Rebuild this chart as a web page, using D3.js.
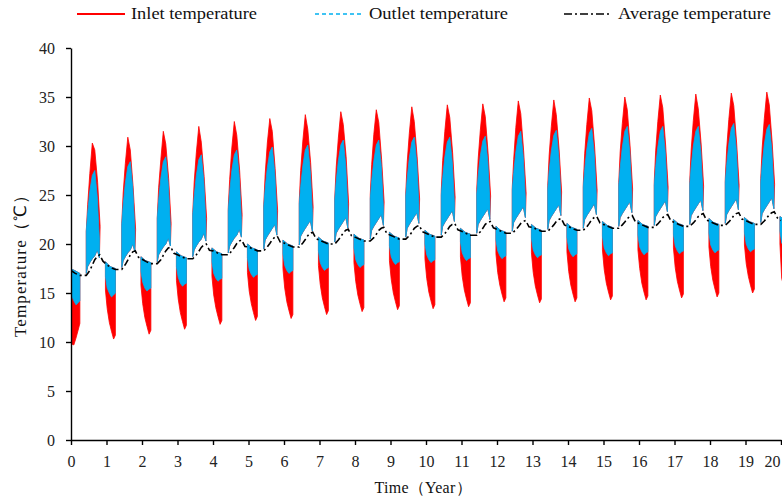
<!DOCTYPE html>
<html>
<head>
<meta charset="utf-8">
<script src="https://cdn.jsdelivr.net/npm/d3@7"></script>
<style>
  body { margin: 0; background: #fff; }
  text { font-family: "Liberation Serif", "Times New Roman", serif; }
</style>
</head>
<body>
<svg id="chart" width="782" height="499"></svg>
<script>
// ---- Axis ticks ----
const yearTicks = [0, 1, 2, 3, 4, 5, 6, 7, 8, 9, 10, 11, 12, 13, 14, 15, 16, 17, 18, 19, 20];
const tempTicks = [0, 5, 10, 15, 20, 25, 30, 35, 40];

// ---- Cooling season (summer) envelopes, one row per year ----
// time within the year (fraction of a year) at which each envelope value is taken
const coolPhase = [0.43, 0.47, 0.53, 0.60, 0.67, 0.74, 0.80];
const inletCoolPhase = [0.43, 0.47, 0.53, 0.60, 0.67, 0.75, 0.82];
const inletCoolTop = [
  [21.3, 24.0, 27.2, 30.3, 29.6, 26.3, 21.8],
  [22.1, 25.2, 28.2, 30.9, 29.6, 25.8, 21.5],
  [22.7, 25.8, 28.6, 31.5, 30.2, 26.7, 22.1],
  [23.2, 26.3, 29.3, 32.0, 30.4, 26.9, 22.6],
  [23.7, 26.6, 29.8, 32.5, 31.1, 27.5, 23.0],
  [24.0, 27.1, 30.3, 32.8, 31.5, 27.7, 23.4],
  [24.4, 27.5, 30.5, 33.2, 31.7, 28.3, 23.8],
  [24.7, 27.8, 30.8, 33.5, 32.2, 28.9, 24.1],
  [25.0, 28.1, 31.2, 33.7, 32.4, 28.6, 24.3],
  [25.2, 28.3, 31.3, 34.0, 32.5, 28.9, 24.6],
  [25.4, 28.5, 31.5, 34.2, 32.9, 29.3, 24.8],
  [25.6, 28.7, 31.6, 34.3, 33.0, 29.2, 24.9],
  [25.8, 28.6, 31.9, 34.6, 33.3, 29.5, 25.2],
  [26.0, 29.1, 32.0, 34.7, 33.2, 29.6, 25.3],
  [26.1, 29.2, 32.2, 34.9, 33.6, 29.9, 25.5],
  [26.3, 29.4, 32.3, 35.0, 33.7, 29.9, 25.6],
  [26.4, 29.5, 32.5, 35.2, 33.9, 30.1, 25.8],
  [26.5, 29.6, 32.6, 35.3, 33.8, 30.2, 25.9],
  [26.6, 29.7, 32.7, 35.4, 34.1, 30.3, 26.0],
  [26.7, 29.8, 32.8, 35.5, 34.2, 30.4, 26.1]
];
const outletCoolTop = [
  [21.3, 23.2, 25.4, 27.0, 27.5, 24.8, 20.5],
  [22.0, 24.0, 26.2, 27.9, 28.4, 25.7, 21.3],
  [22.6, 24.5, 26.7, 28.4, 28.9, 26.2, 21.8],
  [23.0, 24.9, 27.0, 28.6, 29.1, 26.5, 22.2],
  [23.4, 25.3, 27.5, 29.1, 29.6, 26.9, 22.6],
  [23.8, 25.7, 27.8, 29.4, 29.9, 27.3, 23.0],
  [24.1, 25.9, 28.0, 29.6, 30.1, 27.5, 23.3],
  [24.5, 26.4, 28.5, 30.1, 30.6, 28.0, 23.7],
  [24.6, 26.5, 28.5, 30.1, 30.6, 28.0, 23.9],
  [24.9, 26.7, 28.8, 30.4, 30.9, 28.3, 24.1],
  [25.0, 26.8, 28.9, 30.4, 30.9, 28.4, 24.3],
  [25.1, 27.0, 29.0, 30.5, 31.0, 28.5, 24.4],
  [25.5, 27.3, 29.4, 31.0, 31.5, 28.9, 24.7],
  [25.6, 27.5, 29.5, 31.1, 31.6, 29.0, 24.9],
  [25.8, 27.6, 29.7, 31.3, 31.8, 29.2, 25.0],
  [26.0, 27.8, 29.9, 31.5, 32.0, 29.4, 25.2],
  [26.0, 27.9, 29.9, 31.5, 32.0, 29.4, 25.3],
  [26.1, 27.9, 30.0, 31.5, 32.0, 29.5, 25.4],
  [26.3, 28.1, 30.2, 31.8, 32.3, 29.7, 25.5],
  [26.3, 28.1, 30.2, 31.7, 32.2, 29.7, 25.6]
];
const outletCoolBottom = [
  [17.0, 17.7, 18.1, 18.5, 18.8, 19.4, 18.6],
  [17.6, 18.3, 18.7, 19.1, 19.4, 20.0, 19.2],
  [18.2, 18.9, 19.3, 19.7, 20.0, 20.6, 19.8],
  [18.7, 19.4, 19.8, 20.2, 20.5, 21.1, 20.3],
  [19.1, 19.8, 20.2, 20.6, 20.9, 21.5, 20.7],
  [19.5, 20.4, 20.8, 21.2, 21.6, 22.0, 20.9],
  [19.9, 20.8, 21.2, 21.6, 22.0, 22.4, 21.3],
  [20.2, 21.1, 21.5, 21.9, 22.3, 22.7, 21.6],
  [20.5, 21.4, 21.8, 22.2, 22.6, 23.0, 21.9],
  [20.7, 21.6, 22.0, 22.4, 22.8, 23.2, 22.1],
  [20.9, 21.8, 22.2, 22.6, 23.0, 23.4, 22.3],
  [21.1, 22.0, 22.4, 22.8, 23.2, 23.6, 22.5],
  [21.3, 22.2, 22.6, 23.0, 23.4, 23.8, 22.7],
  [21.5, 22.4, 22.8, 23.2, 23.6, 24.0, 22.9],
  [21.6, 22.5, 22.9, 23.3, 23.7, 24.1, 23.0],
  [21.8, 22.7, 23.1, 23.5, 23.9, 24.3, 23.2],
  [21.9, 22.8, 23.2, 23.6, 24.0, 24.4, 23.3],
  [22.0, 22.9, 23.3, 23.7, 24.1, 24.5, 23.4],
  [22.1, 23.0, 23.4, 23.8, 24.2, 24.6, 23.5],
  [22.2, 23.1, 23.5, 23.9, 24.3, 24.7, 23.6]
];

// ---- Heating season (winter) envelopes, one row per winter starting near year k ----
const heatTopPhase = [-0.03, 0.10, 0.25];
const heatPhase = [-0.03, 0.02, 0.08, 0.14, 0.20, 0.25];
const heatTop = [
  [17.5, 17.3, 17.0], [18.2, 17.7, 17.5], [18.7, 18.3, 18.1], [19.2, 18.8, 18.6],
  [19.6, 19.2, 19.0], [20.0, 19.6, 19.4], [20.4, 20.0, 19.8], [20.7, 20.3, 20.1],
  [21.0, 20.6, 20.4], [21.2, 20.8, 20.6], [21.4, 21.0, 20.8], [21.6, 21.2, 21.0],
  [21.8, 21.4, 21.2], [22.0, 21.6, 21.4], [22.1, 21.7, 21.5], [22.3, 21.9, 21.7],
  [22.4, 22.0, 21.8], [22.5, 22.1, 21.9], [22.6, 22.2, 22.0], [22.7, 22.3, 22.1],
  [22.8, 22.5, 22.2]
];
const inletHeatBottom = [
  [13.0, 9.8, 9.7, 10.4, 11.2, 11.9],
  [15.3, 13.4, 12.0, 11.1, 10.3, 10.7],
  [15.8, 13.9, 12.5, 11.6, 10.8, 11.2],
  [16.3, 14.4, 13.0, 12.1, 11.3, 11.7],
  [16.7, 14.8, 13.5, 12.6, 11.8, 12.2],
  [17.1, 15.2, 13.9, 13.0, 12.2, 12.6],
  [17.5, 15.5, 14.1, 13.2, 12.4, 12.8],
  [17.8, 15.9, 14.5, 13.6, 12.8, 13.2],
  [18.1, 16.2, 14.8, 13.9, 13.1, 13.5],
  [18.3, 16.4, 15.0, 14.1, 13.3, 13.7],
  [18.5, 16.5, 15.1, 14.2, 13.4, 13.8],
  [18.7, 16.7, 15.3, 14.4, 13.6, 14.0],
  [19.0, 17.1, 15.8, 14.9, 14.1, 14.5],
  [19.1, 17.1, 15.7, 14.8, 14.0, 14.4],
  [19.2, 17.2, 15.8, 14.9, 14.1, 14.5],
  [19.4, 17.4, 16.0, 15.1, 14.3, 14.7],
  [19.4, 17.5, 16.0, 15.1, 14.3, 14.7],
  [19.6, 17.6, 16.2, 15.3, 14.5, 14.9],
  [19.7, 17.7, 16.3, 15.4, 14.6, 15.0],
  [19.9, 18.0, 16.7, 15.8, 15.0, 15.4],
  [20.0, 16.5, 15.6, 15.2, 15.2, 15.5]
];
const outletHeatBottom = [
  [16.0, 14.7, 14.2, 13.8, 14.0, 14.2],
  [16.7, 15.5, 15.0, 14.6, 14.8, 15.0],
  [17.2, 16.1, 15.5, 15.2, 15.4, 15.5],
  [17.7, 16.6, 16.0, 15.7, 15.9, 16.0],
  [18.2, 17.0, 16.5, 16.2, 16.4, 16.5],
  [18.6, 17.4, 16.9, 16.6, 16.8, 16.9],
  [19.0, 17.8, 17.3, 17.0, 17.2, 17.3],
  [19.3, 18.1, 17.6, 17.3, 17.5, 17.6],
  [19.6, 18.4, 17.9, 17.6, 17.8, 17.9],
  [19.8, 18.7, 18.2, 17.9, 18.1, 18.2],
  [20.0, 18.9, 18.4, 18.1, 18.3, 18.4],
  [20.2, 19.1, 18.6, 18.3, 18.5, 18.6],
  [20.4, 19.3, 18.8, 18.5, 18.7, 18.8],
  [20.6, 19.4, 18.9, 18.6, 18.8, 18.9],
  [20.7, 19.5, 19.0, 18.7, 18.9, 19.0],
  [20.8, 19.6, 19.1, 18.8, 19.0, 19.1],
  [20.9, 19.7, 19.2, 18.9, 19.1, 19.2],
  [21.0, 19.8, 19.3, 19.0, 19.2, 19.3],
  [21.1, 19.9, 19.4, 19.1, 19.3, 19.4],
  [21.2, 20.0, 19.5, 19.2, 19.4, 19.5],
  [21.3, 20.1, 19.8, 19.6, 19.7, 19.8]
];

// ---- Average temperature, one row per year ----
const avgPhase = [0.00, 0.12, 0.25, 0.43, 0.53, 0.60, 0.67, 0.74, 0.81, 0.90];
const avgTemp = [
  [17.3, 17.0, 16.8, 16.8, 17.3, 17.85, 18.4, 18.75, 18.9, 18.25],
  [17.9, 17.6, 17.4, 17.4, 17.9, 18.35, 18.9, 19.2, 19.3, 18.65],
  [18.45, 18.2, 18.0, 18.0, 18.4, 18.85, 19.3, 19.6, 19.7, 19.05],
  [18.9, 18.7, 18.5, 18.5, 18.9, 19.25, 19.65, 19.9, 20.0, 19.35],
  [19.3, 19.1, 18.9, 18.9, 19.3, 19.65, 20.05, 20.3, 20.4, 19.75],
  [19.7, 19.5, 19.3, 19.3, 19.7, 20.05, 20.45, 20.7, 20.8, 20.15],
  [20.1, 19.9, 19.7, 19.7, 20.1, 20.45, 20.85, 21.1, 21.2, 20.55],
  [20.4, 20.2, 20.0, 20.0, 20.4, 20.75, 21.15, 21.4, 21.5, 20.85],
  [20.7, 20.5, 20.3, 20.3, 20.65, 21.0, 21.4, 21.6, 21.7, 21.05],
  [20.9, 20.7, 20.5, 20.5, 20.85, 21.2, 21.6, 21.8, 21.9, 21.25],
  [21.1, 20.9, 20.7, 20.7, 21.05, 21.4, 21.8, 22.0, 22.1, 21.45],
  [21.3, 21.1, 20.9, 20.9, 21.25, 21.6, 22.0, 22.2, 22.3, 21.65],
  [21.5, 21.3, 21.1, 21.1, 21.45, 21.75, 22.1, 22.3, 22.4, 21.75],
  [21.7, 21.5, 21.3, 21.3, 21.65, 21.95, 22.3, 22.5, 22.6, 21.95],
  [21.8, 21.6, 21.4, 21.4, 21.75, 22.1, 22.5, 22.7, 22.8, 22.15],
  [22.0, 21.8, 21.6, 21.6, 21.95, 22.25, 22.6, 22.8, 22.9, 22.25],
  [22.1, 21.9, 21.7, 21.7, 22.05, 22.35, 22.7, 22.9, 23.0, 22.35],
  [22.2, 22.0, 21.8, 21.8, 22.15, 22.45, 22.8, 23.0, 23.1, 22.45],
  [22.3, 22.1, 21.9, 21.9, 22.25, 22.55, 22.9, 23.1, 23.2, 22.55],
  [22.4, 22.2, 22.0, 22.0, 22.35, 22.65, 23.0, 23.2, 23.3, 22.65]
];
const avgAtEnd = [20, 22.4];

// ---- Legend entries ----
const seriesNames = ["Inlet temperature", "Outlet temperature", "Average temperature"];
const seriesColors = ["#FF0000", "#00B0F0", "#000000"];

const svg = d3.select("#chart");
const x = d3.scaleLinear().domain([0, 20]).range([71, 781]);
const y = d3.scaleLinear().domain([0, 40]).range([440, 48]);

svg.append("clipPath").attr("id", "plotClip")
  .append("rect").attr("x", 71).attr("y", 0).attr("width", 711).attr("height", 440);

const plot = svg.append("g").attr("clip-path", "url(#plotClip)");
const poly = d3.line().x(d => x(d[0])).y(d => y(d[1]));

// closed outline: upper edge left→right, lower edge right→left
function band(offset, topPh, topVals, botPh, botVals) {
  const upper = topPh.map((p, i) => [offset + p, topVals[i]]);
  const lower = botPh.map((p, i) => [offset + p, botVals[i]]).reverse();
  return poly(upper.concat(lower)) + "Z";
}

function drawBand(d, color) {
  plot.append("path").attr("d", d)
    .attr("fill", color).attr("stroke", color).attr("stroke-width", 0.8)
    .attr("stroke-linejoin", "round");
}

// inlet (red) first, outlet (blue) drawn over it
inletCoolTop.forEach((row, n) => drawBand(band(n, inletCoolPhase, row, coolPhase, outletCoolBottom[n]), seriesColors[0]));
inletHeatBottom.forEach((row, k) => drawBand(band(k, heatTopPhase, heatTop[k], heatPhase, row), seriesColors[0]));
outletCoolTop.forEach((row, n) => drawBand(band(n, coolPhase, row, coolPhase, outletCoolBottom[n]), seriesColors[1]));
outletHeatBottom.forEach((row, k) => drawBand(band(k, heatTopPhase, heatTop[k], heatPhase, row), seriesColors[1]));

// average temperature, dash-dot
const avgPoints = [];
avgTemp.forEach((row, n) => row.forEach((v, i) => avgPoints.push([n + avgPhase[i], v])));
avgPoints.push(avgAtEnd);
plot.append("path").attr("d", poly(avgPoints))
  .attr("fill", "none").attr("stroke", seriesColors[2]).attr("stroke-width", 1.6)
  .attr("stroke-dasharray", "7,3,2,3");

// ---- Axes ----
const xAxis = svg.append("g").attr("transform", "translate(0,440)")
  .call(d3.axisBottom(x).tickValues(yearTicks).tickFormat(d3.format("d"))
    .tickSize(5).tickSizeOuter(0).tickPadding(11));
const yAxis = svg.append("g").attr("transform", "translate(71,0)")
  .call(d3.axisLeft(y).tickValues(tempTicks).tickFormat(d3.format("d"))
    .tickSize(5).tickSizeOuter(0).tickPadding(11));

[xAxis, yAxis].forEach(g => {
  g.select(".domain").attr("stroke", "#000").attr("stroke-width", 1.4);
  g.selectAll(".tick line").attr("stroke", "#000").attr("stroke-width", 1.4);
  g.selectAll(".tick text").attr("fill", "#222").style("font-size", "16px")
    .style("font-family", '"Liberation Serif", "Times New Roman", serif');
});
// last year label sits inside the frame
xAxis.selectAll(".tick text").filter(d => d === 20).attr("text-anchor", "end").attr("dx", "-1");

svg.append("text").attr("x", 423).attr("y", 493).attr("text-anchor", "middle")
  .attr("textLength", 97).attr("lengthAdjust", "spacing")
  .style("font-size", "16px").attr("fill", "#111").text("Time（Year）");
svg.append("text").attr("transform", "translate(26,262) rotate(-90)").attr("text-anchor", "middle")
  .attr("textLength", 150).attr("lengthAdjust", "spacing")
  .style("font-size", "17px").attr("fill", "#111").text("Temperature（℃）");

// ---- Legend ----
const legendX = [77, 315, 564];
const legendTextW = [126, 139, 153];
const legendDash = [null, "4,3", "8,3,2,3"];
seriesNames.forEach((name, i) => {
  svg.append("line").attr("x1", legendX[i]).attr("x2", legendX[i] + 48)
    .attr("y1", 14).attr("y2", 14)
    .attr("stroke", seriesColors[i]).attr("stroke-width", i === 0 ? 2 : 1.5)
    .attr("stroke-dasharray", legendDash[i]);
  svg.append("text").attr("x", legendX[i] + 54).attr("y", 19)
    .attr("textLength", legendTextW[i]).attr("lengthAdjust", "spacingAndGlyphs")
    .style("font-size", "16px").attr("fill", "#111").text(name);
});
</script>
</body>
</html>
